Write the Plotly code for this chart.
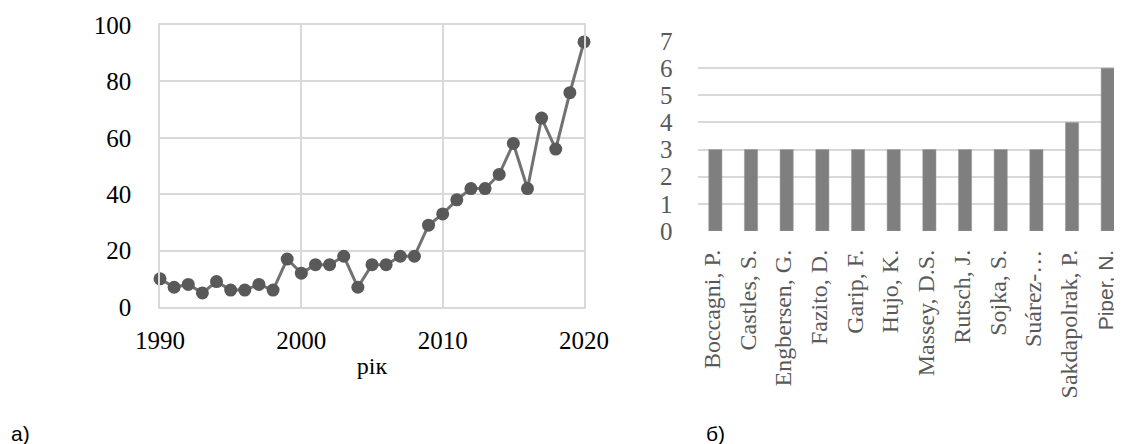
import plotly.graph_objects as go

# ---- data ----
years = list(range(1990, 2021))
publications = [10, 7, 8, 5, 9, 6, 6, 8, 6, 17, 12, 15, 15, 18, 7, 15, 15, 18, 18,
                29, 33, 38, 42, 42, 47, 58, 42, 67, 56, 76, 94]

authors = ["Boccagni, P.", "Castles, S.", "Engbersen, G.", "Fazito, D.", "Garip, F.",
           "Hujo, K.", "Massey, D.S.", "Rutsch, J.", "Sojka, S.", "Suárez-…",
           "Sakdapolrak, P.", "Piper, N."]
author_counts = [3, 3, 3, 3, 3, 3, 3, 3, 3, 3, 4, 6]

left_yticks = [0, 20, 40, 60, 80, 100]
left_xticks = [1990, 2000, 2010, 2020]
right_yticks = [0, 1, 2, 3, 4, 5, 6, 7]

SERIF = "Liberation Serif, Times New Roman, serif"
SANS = "Liberation Sans, Arial, sans-serif"
GRID = "#d9d9d9"

# page body has an 8px margin; size the figure to fit the window
OFF = 8
W, H = 1122 - OFF, 444 - OFF

def px_x(p):
    return (p - OFF) / W

def px_y(p):
    return 1 - (p - OFF) / H

fig = go.Figure()

fig.add_trace(go.Scatter(
    x=years, y=publications, mode="lines+markers",
    line=dict(color="#727272", width=3),
    marker=dict(color="#595959", size=13, symbol="circle"),
    xaxis="x", yaxis="y", showlegend=False, cliponaxis=False,
))

tick_text = [a if a != "Piper, N." else
             f'<span style="font-family:{SANS};font-size:21px">Piper, N.</span>'
             for a in authors]

fig.add_trace(go.Bar(
    x=list(range(len(authors))), y=author_counts,
    marker=dict(color="#7f7f7f", line=dict(color="#9a9a9a", width=0.5)),
    width=0.37, xaxis="x2", yaxis="y2", showlegend=False,
))

fig.update_layout(
    template="none",
    width=W, height=H,
    margin=dict(l=0, r=0, t=0, b=0),
    paper_bgcolor="white", plot_bgcolor="white",
    font=dict(family=SERIF, color="#000000"),
    xaxis=dict(
        domain=[px_x(160), px_x(584)], range=[1990, 2020],
        tickvals=left_xticks, ticktext=[str(v) for v in left_xticks],
        showgrid=True, gridcolor=GRID, gridwidth=1.5,
        showline=True, linecolor=GRID, linewidth=1.5, mirror=True,
        zeroline=False, ticks="", ticklabelstandoff=10, automargin=False,
        tickfont=dict(size=25, color="#000000", family=SERIF),
        title=dict(text="рік", font=dict(size=24, family=SERIF, color="#000000"), standoff=4),
        anchor="y",
    ),
    yaxis=dict(
        domain=[px_y(307), px_y(25)], range=[0, 100],
        tickvals=left_yticks,
        showgrid=True, gridcolor=GRID, gridwidth=1.5,
        showline=True, linecolor=GRID, linewidth=1.5, mirror=True,
        zeroline=False, ticks="", ticklabelstandoff=22, automargin=False,
        tickfont=dict(size=25, color="#000000", family=SERIF),
        anchor="x",
    ),
    xaxis2=dict(
        domain=[px_x(697.5), 1.0], range=[-0.5, 11.4],
        tickvals=list(range(len(authors))), ticktext=tick_text,
        tickangle=-90, showgrid=False, zeroline=False,
        showline=False, ticks="", ticklabelstandoff=13, ticklabelshift=-3,
        automargin=False,
        tickfont=dict(size=24, color="#595959", family=SERIF),
        anchor="y2",
    ),
    yaxis2=dict(
        domain=[px_y(231), px_y(41)], range=[0, 7],
        tickvals=right_yticks,
        showgrid=True, gridcolor=GRID, gridwidth=1.5,
        zeroline=False, showline=False, ticks="", ticklabelstandoff=24, automargin=False,
        tickfont=dict(size=25, color="#595959", family=SERIF),
        anchor="x2",
    ),
    annotations=[
        dict(text="а)", x=px_x(9), y=px_y(433), xref="paper", yref="paper",
             xanchor="left", yanchor="middle", showarrow=False,
             font=dict(size=21, family=SANS, color="#000000")),
        dict(text="б)", x=px_x(704), y=px_y(433), xref="paper", yref="paper",
             xanchor="left", yanchor="middle", showarrow=False,
             font=dict(size=21, family=SANS, color="#000000")),
    ],
)

fig.write_html("out.html")
